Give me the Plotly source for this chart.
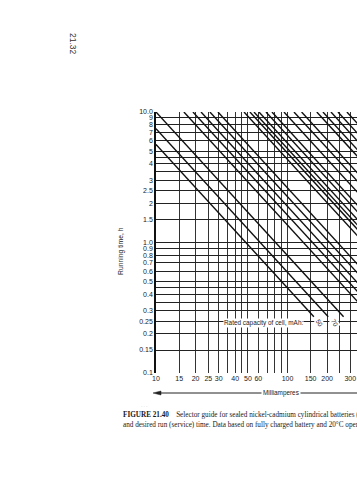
import plotly.graph_objects as go
import math

# ---------------- data ----------------
# Diagonal selector lines: start point (current mA, time h) and end point
line_start_current = [10.0, 10.0, 10.0, 16.3, 19.1, 22.0, 25.7, 29.6, 46.7, 51.8, 55.6,
                      60.7, 68.6, 76.2, 94.0, 112.0, 128.0, 167.0, 186.0, 214.0, 242.0, 283.0]
line_start_time = [10.0, 7.46, 5.65, 10.0, 10.0, 10.0, 10.0, 10.0, 10.0, 10.0, 10.0,
                   10.0, 10.0, 10.0, 10.0, 10.0, 10.0, 10.0, 10.0, 10.0, 10.0, 10.0]
line_end_current = [267.0, 204.0, 158.7, 435.0, 510.0, 587.0, 686.0, 790.0, 1247.0, 1383.0, 1485.0,
                    1620.0, 1832.0, 2035.0, 2510.0, 2990.0, 3418.0, 4459.0, 4966.0, 5714.0, 6461.0, 7556.0]
line_end_time = [0.27] * 22

# capacity labels visible at the line ends
cap_labels = ["50", "70"]
cap_label_current = [177.0, 231.0]
cap_label_time = [0.241, 0.241]

# axis ticks
x_tickvals = [10, 15, 20, 25, 30, 35, 40, 45, 50, 60, 70, 80, 90, 100, 150, 200, 250, 300]
x_ticktext = ["10", "15", "20", "25", "30", "", "40", "", "50", "60", "", "", "", "100", "150", "200", "", "300"]
y_tickvals = [10, 9, 8, 7, 6, 5, 4.5, 4, 3.5, 3, 2.5, 2, 1.5, 1.0, 0.9, 0.8, 0.7, 0.6, 0.5, 0.45,
              0.4, 0.35, 0.3, 0.25, 0.2, 0.15, 0.1]
y_ticktext = ["10.0", "9", "8", "7", "6", "5", "", "4", "", "3", "2.5", "2", "1.5", "1.0", "0.9", "0.8",
              "0.7", "0.6", "0.5", "", "0.4", "", "0.3", "0.25", "0.2", "0.15", "0.1"]

# ---------------- layout geometry ----------------
W, H = 357, 480
L, R, T, B = 156, 0, 112, 107
PW, PH = W - L - R, H - T - B
X_LOG_MIN = 1.0
X_LOG_MAX = 1.0 + PW / 131.5


def px(xp):
    return (xp - L) / PW


def py(yp):
    return (H - B - yp) / PH


fig = go.Figure()

for xs, ts, xe, te in zip(line_start_current, line_start_time, line_end_current, line_end_time):
    fig.add_trace(go.Scatter(x=[xs, xe], y=[ts, te], mode="lines",
                             line=dict(color="#111111", width=1.4),
                             showlegend=False, hoverinfo="skip", cliponaxis=True))

sans = "Liberation Sans, Arial, sans-serif"
serif = "Liberation Serif, Times New Roman, serif"
TXT = "#1a1a1a"

fig.update_layout(
    width=W, height=H,
    margin=dict(l=L, r=R, t=T, b=B, pad=0),
    paper_bgcolor="white", plot_bgcolor="white",
    showlegend=False,
    font=dict(family=sans, color=TXT, size=7),
    xaxis=dict(type="log", range=[X_LOG_MIN, X_LOG_MAX],
               tickvals=x_tickvals, ticktext=x_ticktext, tickangle=0,
               showgrid=True, gridcolor="#333333", gridwidth=1.1,
               showline=False, zeroline=False, ticks="",
               tickfont=dict(size=7, family=sans, color=TXT)),
    yaxis=dict(type="log", range=[-1, 1],
               tickvals=y_tickvals, ticktext=y_ticktext,
               showgrid=True, gridcolor="#222222", gridwidth=1.4,
               showline=True, linecolor="#111111", linewidth=1.6,
               zeroline=False, ticks="",
               tickfont=dict(size=7, family=sans, color=TXT)),
)


def pa(x, y, text, **kw):
    d = dict(x=px(x), y=py(y), xref="paper", yref="paper", text=text, showarrow=False,
             xanchor="center", yanchor="middle")
    d.update(kw)
    return d


ann = []
# page number
ann.append(pa(73, 44, "21.32", textangle=90, font=dict(size=8.5, family=sans, color="#333")))
# y-axis title
ann.append(pa(121, 251, "Running time, h", textangle=-90, font=dict(size=6.8, family=sans, color=TXT)))
# rated capacity text
ann.append(dict(x=math.log10(66.2), y=math.log10(0.241), xref="x", yref="y",
                text="Rated capacity of cell, mAh:", showarrow=False, bgcolor="white",
                xanchor="center", yanchor="middle", borderpad=0,
                font=dict(size=6.4, family=sans, color=TXT)))
for lab, xc, tc in zip(cap_labels, cap_label_current, cap_label_time):
    ann.append(dict(x=math.log10(xc), y=math.log10(tc), xref="x", yref="y", text=lab,
                    textangle=60, showarrow=False, bgcolor="white", borderpad=0,
                    xanchor="center", yanchor="middle",
                    font=dict(size=6.4, family=sans, color=TXT)))
# Milliamperes label
ann.append(pa(281, 393, "Milliamperes", bgcolor="white", borderpad=1,
              font=dict(size=6.4, family=sans, color=TXT)))
# faint dots
ann.append(pa(139, 405, "- - -", xanchor="left", font=dict(size=4, family=sans, color="#bbb")))
# caption
ann.append(pa(121, 415, "<b>FIGURE 21.40</b>    Selector guide for sealed nickel-cadmium cylindrical batteries (based on capacity, discharge current",
              xanchor="left", font=dict(size=7.2, family=serif, color=TXT)))
ann.append(pa(121, 424.5, "and desired run (service) time. Data based on fully charged battery and 20°C operation.)",
              xanchor="left", font=dict(size=7.2, family=serif, color=TXT)))
fig.update_layout(annotations=ann)

# arrow line under axis
fig.add_shape(type="line", xref="paper", yref="paper", x0=px(158), x1=px(357), y0=py(393), y1=py(393),
              line=dict(color="#222", width=1))
fig.add_shape(type="path", xref="paper", yref="paper",
              path=f"M {px(153)} {py(393)} L {px(161)} {py(391)} L {px(161)} {py(395)} Z",
              fillcolor="#222", line=dict(color="#222", width=0.5))

fig.write_html("out.html")
